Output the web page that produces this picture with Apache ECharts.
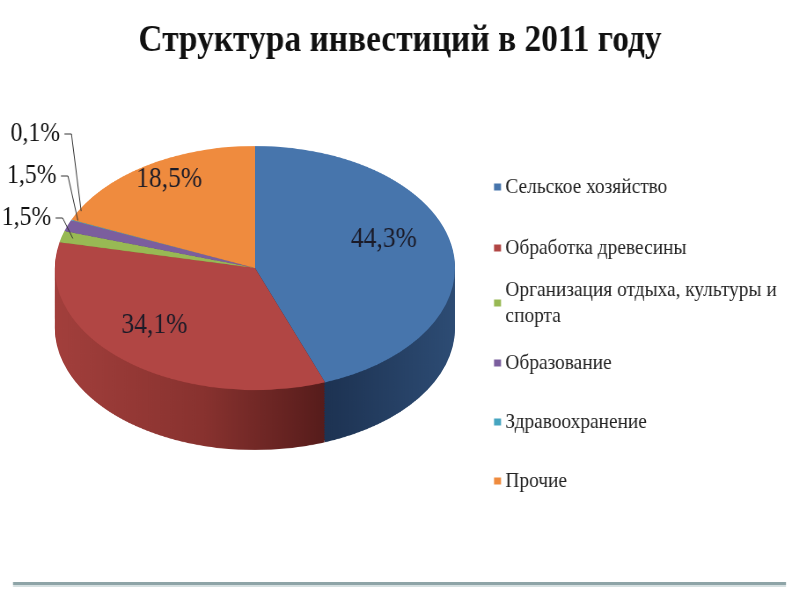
<!DOCTYPE html>
<html>
<head>
<meta charset="utf-8">
<script src="https://cdn.jsdelivr.net/npm/echarts@6/dist/echarts.min.js"></script>
<style>
html,body{margin:0;padding:0;background:#fff;overflow:hidden;width:800px;height:600px;}
#pie{position:absolute;left:0;top:0;width:800px;height:984px;transform:scaleY(0.61);transform-origin:0 0;}
#main{position:absolute;left:0;top:0;width:909px;height:600px;transform:scaleX(0.88);transform-origin:0 0;}
</style>
</head>
<body>
<div id="pie"></div>
<div id="main"></div>
<script>
// ---- data ----
const categories = ['Сельское хозяйство', 'Обработка древесины', 'Организация отдыха, культуры и спорта', 'Образование', 'Здравоохранение', 'Прочие'];
const values = [44.3, 34.1, 1.5, 1.5, 0.1, 18.5];
const titleText = 'Структура инвестиций в 2011 году';
const topColors = ['#4775AC', '#B14644', '#98B954', '#7B5E9E', '#46A5C0', '#EF8B3E'];

// ---- geometry / style constants ----
const K = 0.61;            // vertical squash of the pie layer (tilt)
const S = 0.88;            // horizontal condensation of the text layer
const PIE_CX = 255, PIE_CY = 268, PIE_R = 200, PIE_DEPTH = 60;
const LAYERS = 25;

function grad(stops) {
  return new echarts.graphic.LinearGradient(0, 0, 1, 0, stops.map((c, i) => ({offset: c[0], color: c[1]})));
}
const sideColors = [
  grad([[0, '#1a2e4b'], [0.4, '#1e3454'], [1, '#2d4c74']]),
  grad([[0, '#a23f3c'], [0.55, '#88322f'], [1, '#561c1b']]),
  '#6d8637', '#55406f', '#2c7486', '#b1632a'
];

function fmtPct(v) { return v.toFixed(1).replace('.', ',') + '%'; }

// ---- tilted pie layer ----
const pieChart = echarts.init(document.getElementById('pie'), null, {renderer: 'canvas'});
const pieSeries = [];
function pieLayer(offset, colors) {
  return {
    type: 'pie', silent: true, animation: false, startAngle: 90, clockwise: true,
    center: [PIE_CX, PIE_CY / K + offset], radius: [0, PIE_R],
    label: {show: false}, labelLine: {show: false},
    itemStyle: {borderWidth: 0},
    emphasis: {disabled: true},
    data: values.map((v, i) => ({value: v, name: categories[i], itemStyle: {color: colors[i], borderWidth: 0}}))
  };
}
for (let i = LAYERS; i >= 1; i--) {
  pieSeries.push(pieLayer(PIE_DEPTH / K * i / LAYERS, sideColors));
}
pieSeries.push(pieLayer(0, topColors));
pieChart.setOption({animation: false, series: pieSeries});

// ---- text layer: title, legend, labels ----
const ux = x => x / S;
const total = values.reduce((a, b) => a + b, 0);
const midAngles = [];
let acc = 0;
values.forEach(v => { midAngles.push((acc + v / 2) / total * 2 * Math.PI); acc += v; });

function wrap(name, maxChars) {
  const words = name.split(' ');
  const lines = [];
  let cur = '';
  words.forEach(w => {
    const t = cur ? cur + ' ' + w : w;
    if (t.length > maxChars && cur) { lines.push(cur); cur = w; } else { cur = t; }
  });
  lines.push(cur);
  return lines.join('\n');
}

const legendText = {fontFamily: 'Liberation Serif', fontSize: 22, lineHeight: 26, color: '#222'};
function legendBlock(idx, top, gap, extra) {
  return {
    orient: 'vertical', left: ux(494), top: top, padding: 0, itemGap: gap,
    itemWidth: 8, itemHeight: 7, icon: 'rect', selectedMode: false,
    textStyle: legendText,
    formatter: n => wrap(n, 30),
    data: idx.map(i => Object.assign({name: categories[i], itemStyle: {color: topColors[i]}}, extra || {}))
  };
}

const main = echarts.init(document.getElementById('main'), null, {renderer: 'canvas'});
main.setOption({
  animation: false,
  backgroundColor: 'transparent',
  title: {
    text: titleText, left: 'center', top: 17,
    textStyle: {fontFamily: 'Liberation Serif', fontWeight: 'bold', fontSize: 38, color: '#111'}
  },
  legend: [
    legendBlock([0, 1], 174, 35),
    legendBlock([2], 264, 0, {textStyle: {padding: [26, 0, 0, 0]}}),
    legendBlock([3, 4, 5], 350, 33)
  ],
  series: [
    {
      // large shares: labels inside the top face
      type: 'pie', silent: true, startAngle: 90, clockwise: true,
      center: [ux(PIE_CX), PIE_CY], radius: [0, PIE_R],
      itemStyle: {color: 'rgba(0,0,0,0)', borderWidth: 0},
      label: {show: true, position: 'inside', formatter: p => fmtPct(p.value),
        fontFamily: 'Liberation Serif', fontSize: 29, color: '#1b1b28'},
      labelLine: {show: false},
      labelLayout: p => {
        const a = midAngles[p.dataIndex];
        return {x: ux(246 + 140 * Math.sin(a)), y: 256 - 92 * Math.cos(a), align: 'center', verticalAlign: 'middle'};
      },
      data: values.map((v, i) => ({value: v, name: categories[i], label: {show: v >= 5}}))
    },
    {
      // small shares: labels outside with leader lines
      type: 'pie', silent: true, startAngle: 90, clockwise: true,
      left: 0, top: 0, width: ux(800), height: 239,
      center: [276, 290], radius: [0, 200],
      avoidLabelOverlap: true,
      itemStyle: {color: 'rgba(0,0,0,0)', borderWidth: 0},
      label: {show: true, position: 'outside', alignTo: 'labelLine', bleedMargin: 0, overflow: 'none',
        formatter: p => fmtPct(p.value),
        fontFamily: 'Liberation Serif', fontSize: 27, lineHeight: 40, color: '#111'},
      labelLine: {show: true, length: 12, length2: 8, lineStyle: {color: '#333', width: 1}},
      data: values.map((v, i) => ({value: v, name: categories[i], label: {show: v < 5}, labelLine: {show: v < 5}}))
    }
  ],
  graphic: [
    {type: 'rect', silent: true, shape: {x: ux(13), y: 582, width: ux(773), height: 3}, style: {fill: '#8ea4a7'}},
    {type: 'rect', silent: true, shape: {x: ux(13), y: 585, width: ux(773), height: 2}, style: {fill: '#d6e0e1'}}
  ]
});
</script>
</body>
</html>
